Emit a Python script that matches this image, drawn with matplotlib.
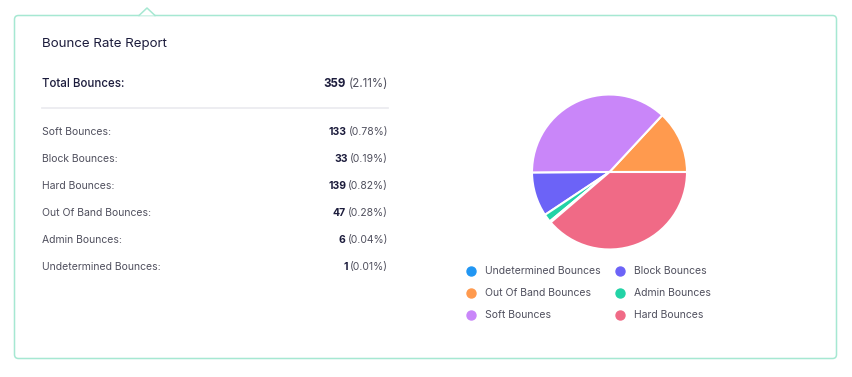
import matplotlib
matplotlib.use("Agg")
import matplotlib.pyplot as plt
from matplotlib.patches import FancyBboxPatch, Polygon

plt.rcParams['font.family'] = ['Inter', 'DejaVu Sans']

# report rows
row_labels = ['Soft Bounces:', 'Block Bounces:', 'Hard Bounces:',
              'Out Of Band Bounces:', 'Admin Bounces:', 'Undetermined Bounces:']
row_counts = [133, 33, 139, 47, 6, 1]
row_pcts = ['0.78%', '0.19%', '0.82%', '0.28%', '0.04%', '0.01%']
total_count = 359
total_pct = '2.11%'

# pie slices (counter clockwise from 3 o'clock)
pie_names = ['Out Of Band Bounces', 'Soft Bounces', 'Block Bounces',
             'Admin Bounces', 'Undetermined Bounces', 'Hard Bounces']
pie_values = [47, 133, 33, 6, 1, 139]
colors = {
    'Undetermined Bounces': '#2196f3',
    'Block Bounces': '#6c63f7',
    'Out Of Band Bounces': '#ff9a4e',
    'Admin Bounces': '#22d3a6',
    'Soft Bounces': '#c986f9',
    'Hard Bounces': '#f06a86',
}
legend_order = ['Undetermined Bounces', 'Block Bounces', 'Out Of Band Bounces',
                'Admin Bounces', 'Soft Bounces', 'Hard Bounces']

W, H = 852, 377
fig = plt.figure(figsize=(W / 100, H / 100), dpi=100)
ax = fig.add_axes([0, 0, 1, 1])
ax.set_xlim(0, W)
ax.set_ylim(H, 0)
ax.axis('off')

dark = '#1c1c3c'
grey = '#50505e'
border = '#a6e8d2'
fs = 7.5

# card
card = FancyBboxPatch((14.5, 15.5), 822, 343, boxstyle='round,pad=0,rounding_size=4',
                      fc='white', ec=border, lw=1.1)
ax.add_patch(card)
ax.add_patch(Polygon([(139, 15.5), (147, 8), (155, 15.5)], closed=True,
                     fc='white', ec='none', zorder=3))
ax.plot([139, 147, 155], [15.5, 8, 15.5], color=border, lw=1.1, zorder=4)

ax.text(42, 44, 'Bounce Rate Report', fontsize=9.6, color=dark, va='center', ha='left')

# total row
ax.text(42, 84, 'Total Bounces:', fontsize=8.3, color=dark, va='center',
        ha='left', fontweight='medium')
t = ax.text(388, 84, '(' + total_pct + ')', fontsize=8.3, color=grey, va='center', ha='right')
ax.annotate(str(total_count), xy=(0, 0.5), xycoords=t, xytext=(-2, 0),
            textcoords='offset points', ha='right', va='center',
            fontsize=8.3, color=dark, fontweight='bold')
ax.plot([42, 388], [108, 108], color='#ececf0', lw=1.3)

for i, (lab, cnt, pct) in enumerate(zip(row_labels, row_counts, row_pcts)):
    y = 132 + i * 27
    ax.text(42, y, lab, fontsize=fs, color=grey, va='center', ha='left')
    t = ax.text(388, y, '(' + pct + ')', fontsize=fs, color=grey, va='center', ha='right')
    ax.annotate(str(cnt), xy=(0, 0.5), xycoords=t, xytext=(-1.5, 0),
                textcoords='offset points', ha='right', va='center',
                fontsize=fs, color=dark, fontweight='bold')

# legend
for i, name in enumerate(legend_order):
    col, row = i % 2, i // 2
    x = 471 + col * 149
    y = 271 + row * 22
    ax.scatter([x], [y], s=42, color=colors[name], zorder=5)
    ax.text(x + 14, y, name, fontsize=fs, color=grey, va='center', ha='left')

# pie
cx, cy, r = 609.5, 172, 77.5
pax = fig.add_axes([(cx - r) / W, (H - cy - r) / H, 2 * r / W, 2 * r / H])
pax.pie(pie_values, colors=[colors[n] for n in pie_names], startangle=0,
        counterclock=True, wedgeprops=dict(edgecolor='white', linewidth=1.5))
pax.set_xlim(-1, 1)
pax.set_ylim(-1, 1)
pax.set_aspect('equal')
pax.axis('off')

fig.savefig('out.png', dpi=100, facecolor='white')
